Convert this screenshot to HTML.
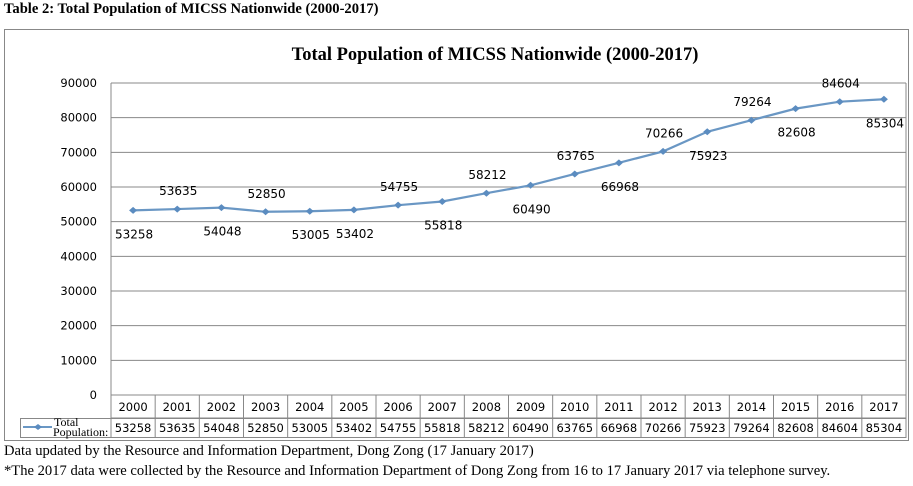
<!DOCTYPE html>
<html><head><meta charset="utf-8"><style>
body{margin:0;background:#fff;width:913px;height:486px;overflow:hidden;position:relative;font-family:"Liberation Serif",serif}
.cap{position:absolute;left:4px;font-size:14.6px;color:#000;white-space:nowrap;line-height:16px}
svg text{font-family:"DejaVu Sans","Liberation Sans",sans-serif}
</style></head><body>
<div class="cap" style="top:1px;font-weight:bold;font-size:14.6px">Table 2: Total Population of MICSS Nationwide (2000-2017)</div>
<svg id="chart" width="913" height="486" style="position:absolute;left:0;top:0"></svg>
<div class="cap" style="top:443px">Data updated by the Resource and Information Department, Dong Zong (17 January 2017)</div>
<div class="cap" style="top:463px">*The 2017 data were collected by the Resource and Information Department of Dong Zong from 16 to 17 January 2017 via telephone survey.</div>
<script>
const years=[2000,2001,2002,2003,2004,2005,2006,2007,2008,2009,2010,2011,2012,2013,2014,2015,2016,2017];
const population=[53258,53635,54048,52850,53005,53402,54755,55818,58212,60490,63765,66968,70266,75923,79264,82608,84604,85304];
const yTicks=[0,10000,20000,30000,40000,50000,60000,70000,80000,90000];
const labelAbove=[0,1,0,1,0,0,1,0,1,0,1,0,1,0,1,0,1,0];
const NS='http://www.w3.org/2000/svg';
const svg=document.getElementById('chart');
function mk(t,a,txt){const e=document.createElementNS(NS,t);for(const k in a)e.setAttribute(k,a[k]);if(txt!==undefined)e.textContent=txt;svg.appendChild(e);return e;}
const L=111,R=906,T=83,B=395,ymax=90000;
const colW=(R-L)/years.length;
const x=i=>L+colW*(i+0.5);
const y=v=>B-(v/ymax)*(B-T);
let e;
e=mk('rect',{x:4.5,y:29.5,width:904,height:411,fill:'#fff',stroke:'#888'});

e=mk('text',{x:495,y:60,'text-anchor':'middle','font-size':'18.5','font-weight':'bold',style:'font-family:"Liberation Serif",serif'},'Total Population of MICSS Nationwide (2000-2017)');

yTicks.forEach(v=>{
  const g=mk('line',{x1:L,x2:R,y1:y(v),y2:y(v),stroke:'#888','stroke-width':1});
  
  const t=mk('text',{x:97,y:y(v)+4,'text-anchor':'end','font-size':'11.5',fill:'#000'},String(v));
  
});
e=mk('line',{x1:L,x2:L,y1:T,y2:438,stroke:'#888'});

e=mk('line',{x1:R,x2:R,y1:T,y2:438,stroke:'#888'});

e=mk('polyline',{points:population.map((v,i)=>x(i)+','+y(v)).join(' '),fill:'none',stroke:'#6a97c4','stroke-width':2.2});

population.forEach((v,i)=>{
  const px=x(i),py=y(v);
  const m=mk('path',{d:`M${px-4},${py}L${px},${py-3.5}L${px+4},${py}L${px},${py+3.5}Z`,fill:'#5b8cc0'});
  
  const t=mk('text',{x:px+1,y:labelAbove[i]?py-14:py+28,'text-anchor':'middle','font-size':'12',fill:'#000'},String(v));
  
});
e=mk('line',{x1:L,x2:R,y1:418,y2:418,stroke:'#888'});

e=mk('rect',{x:20.5,y:418.5,width:R-20.5,height:19,fill:'none',stroke:'#888'});

years.forEach((yr,i)=>{
  const cx=L+colW*(i+1);
  const d=mk('line',{x1:cx,x2:cx,y1:395,y2:438,stroke:'#888'});
  
  const t=mk('text',{x:x(i),y:411,'text-anchor':'middle','font-size':'11.5'},String(yr));
  
  const v=mk('text',{x:x(i),y:432,'text-anchor':'middle','font-size':'11.5'},String(population[i]));
  
});
e=mk('line',{x1:23,x2:52,y1:427,y2:427,stroke:'#6a97c4','stroke-width':2});

e=mk('path',{d:'M34,427L38,424L42,427L38,430Z',fill:'#5b8cc0'});

e=mk('text',{x:54,y:426,'font-size':'12',style:'font-family:"Liberation Serif",serif'},'Total');

e=mk('text',{x:53,y:436,'font-size':'12',style:'font-family:"Liberation Serif",serif'},'Population:');

</script>
</body></html>
